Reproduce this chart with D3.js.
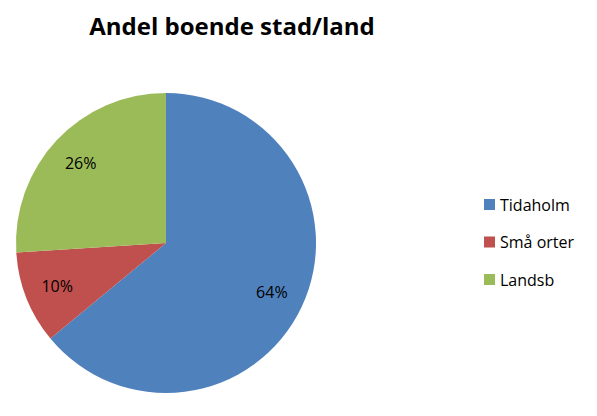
<!DOCTYPE html>
<html><head><meta charset="utf-8">
<script src="https://cdn.jsdelivr.net/npm/d3@7"></script>
<style>body{margin:0;background:#fff}</style>
</head><body>
<svg id="chart" width="597" height="416"></svg>
<script>
// Data
var categories = ["Tidaholm", "Små orter", "Landsb"];
var shares = [64, 10, 26];
var colors = ["#4F81BD", "#C0504D", "#9BBB59"];

var svg = d3.select("#chart");
var font = "'Open Sans', 'Liberation Sans', sans-serif";

svg.append("text")
  .attr("x", 232).attr("y", 35)
  .attr("text-anchor", "middle")
  .attr("font-family", font).attr("font-weight", "bold")
  .attr("font-size", 24)
  .text("Andel boende stad/land");

var radius = 150;
var g = svg.append("g").attr("transform", "translate(166,243)");

var pie = d3.pie().sort(null).value(d => d);
var arc = d3.arc().innerRadius(0).outerRadius(radius);
var labelArc = d3.arc().innerRadius(radius * 0.78).outerRadius(radius * 0.78);

var arcs = pie(shares);
g.selectAll("path").data(arcs).enter().append("path")
  .attr("d", arc)
  .attr("fill", (d, i) => colors[i]);

g.selectAll("text.lbl").data(arcs).enter().append("text")
  .attr("class", "lbl")
  .attr("transform", d => "translate(" + labelArc.centroid(d) + ")")
  .attr("text-anchor", "middle").attr("dy", "0.35em")
  .attr("font-family", font).attr("font-size", 16)
  .text(d => d.data + "%");

// Legend
var legend = svg.selectAll("g.leg").data(categories).enter().append("g")
  .attr("transform", (d, i) => "translate(484," + (199 + i * 37.5) + ")");
legend.append("rect").attr("width", 11).attr("height", 11)
  .attr("fill", (d, i) => colors[i]);
legend.append("text").attr("x", 16).attr("y", 6).attr("dy", "0.35em")
  .attr("font-family", font).attr("font-size", 16)
  .text(d => d);
</script>
</body></html>
